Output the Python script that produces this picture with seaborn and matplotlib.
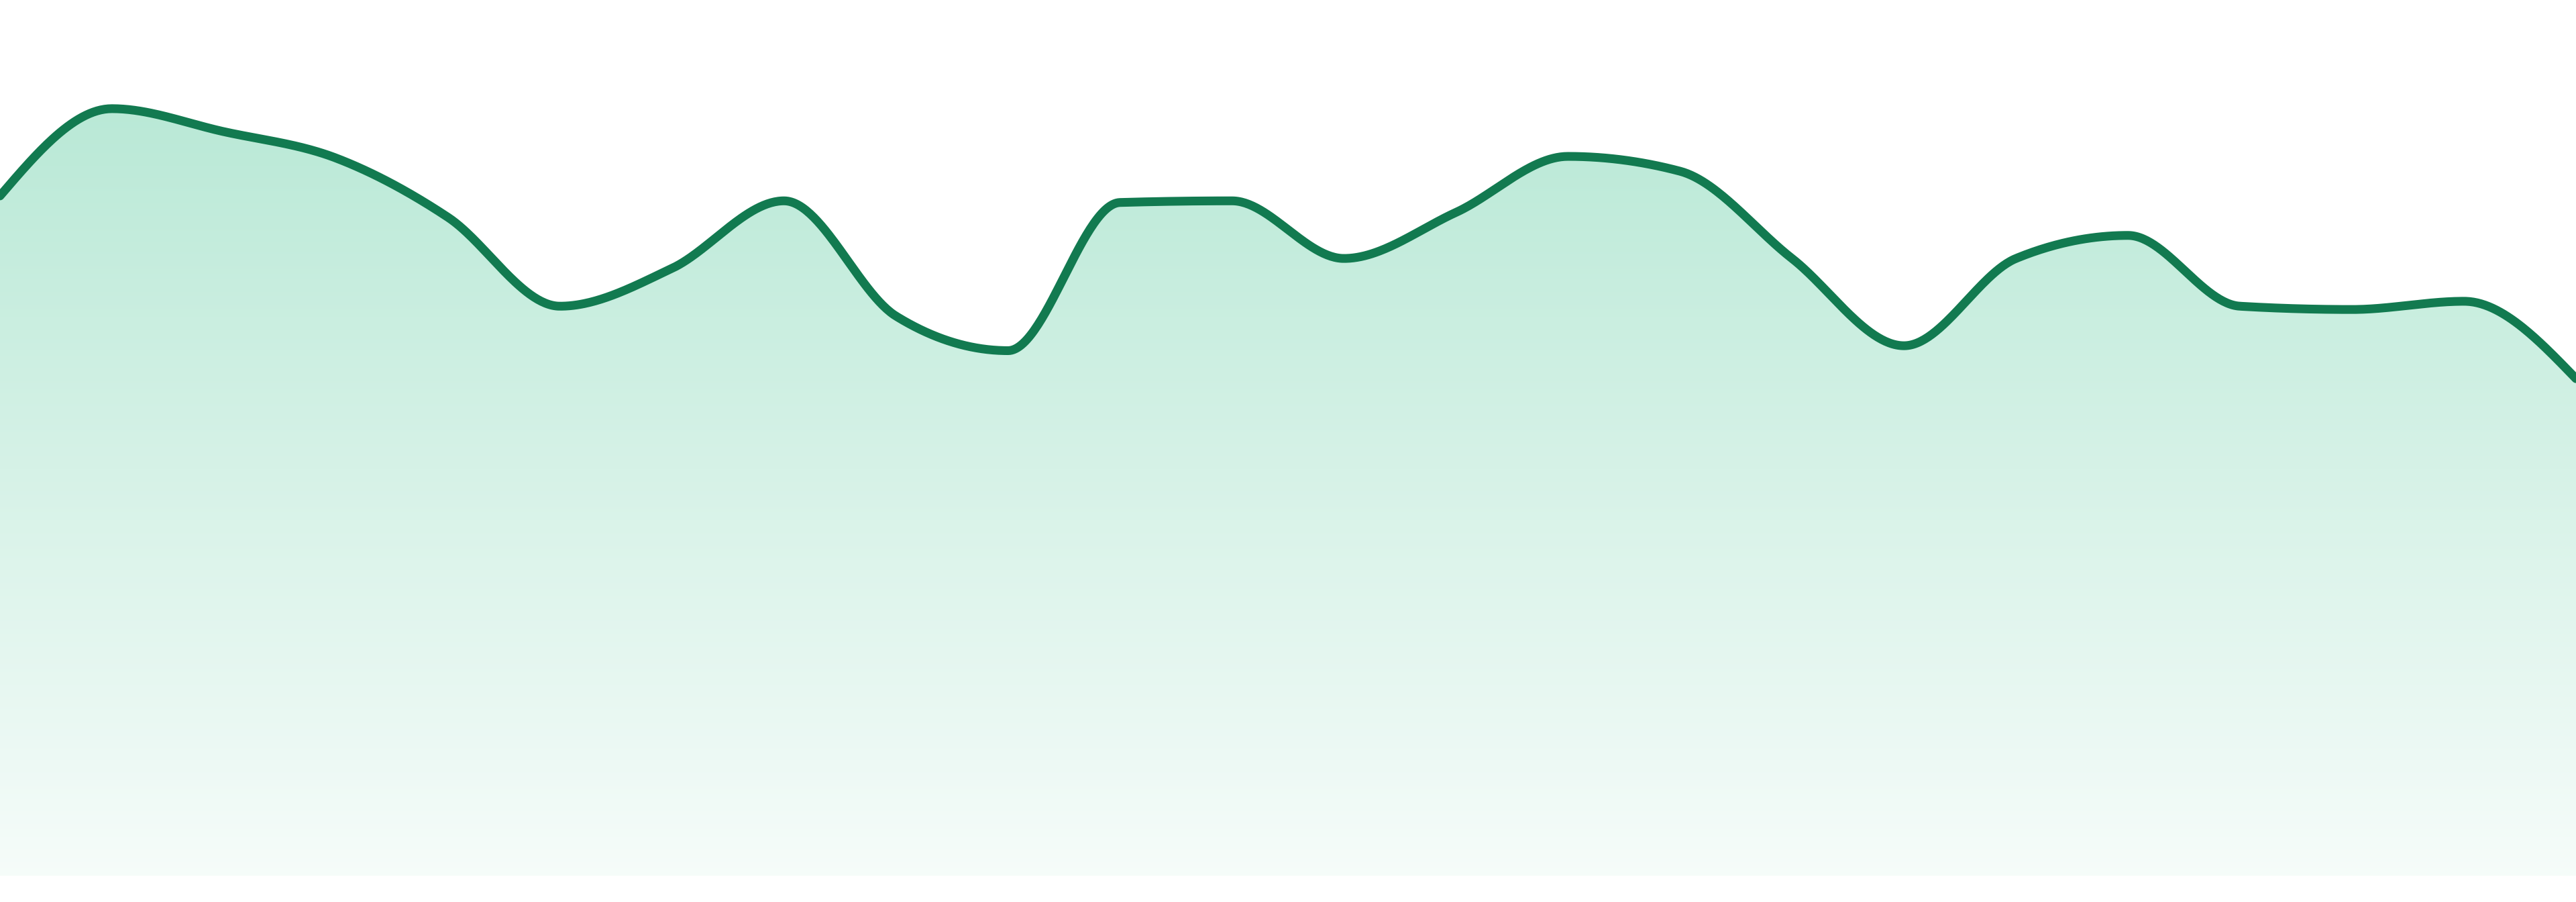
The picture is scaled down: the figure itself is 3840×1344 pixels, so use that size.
import numpy as np
import pandas as pd
import matplotlib
matplotlib.use("Agg")
import matplotlib.pyplot as plt
from matplotlib.colors import to_rgb
import seaborn as sns

# Data (height above baseline, arbitrary units)
steps = list(range(24))
values = [413, 466, 452, 436, 400, 346, 369, 410, 340, 319, 409, 410,
          375, 403, 437, 428, 375, 322, 375, 389, 346, 344, 349, 302]

line_color = "#127a50"
fill_color = "#1fb87c"


def monotone_curve(x, y, per_seg=60):
    # d3 curveMonotoneX style tangents
    x = np.asarray(x, float)
    y = np.asarray(y, float)
    n = len(x)
    h = np.diff(x)
    s = np.diff(y) / h
    t = np.zeros(n)
    for i in range(1, n - 1):
        h0, h1 = h[i - 1], h[i]
        s0, s1 = s[i - 1], s[i]
        p = (s0 * h1 + s1 * h0) / (h0 + h1)
        t[i] = (np.sign(s0) + np.sign(s1)) * min(abs(s0), abs(s1), 0.5 * abs(p))
    t[0] = (3 * s[0] - t[1]) / 2
    t[-1] = (3 * s[-1] - t[-2]) / 2
    xs, ys = [], []
    for i in range(n - 1):
        u = np.linspace(0, 1, per_seg, endpoint=(i == n - 2))
        dx = h[i]
        h00 = 2 * u**3 - 3 * u**2 + 1
        h10 = u**3 - 2 * u**2 + u
        h01 = -2 * u**3 + 3 * u**2
        h11 = u**3 - u**2
        xs.append(x[i] + u * dx)
        ys.append(h00 * y[i] + h10 * dx * t[i] + h01 * y[i + 1] + h11 * dx * t[i + 1])
    return np.concatenate(xs), np.concatenate(ys)


cx, cy = monotone_curve(steps, values)
curve = pd.DataFrame({"step": cx, "value": cy})

sns.set_theme(style="white")
fig = plt.figure(figsize=(38.4, 13.44), dpi=100)
ax = fig.add_axes([0, 39 / 1344, 1, 1305 / 1344])
ax.set_xlim(0, len(steps) - 1)
ax.set_ylim(0, 532)

# gradient fill under the curve
top = max(values)
rgb = np.array(to_rgb(fill_color))
grad_y = np.linspace(0, 532, 600)
alpha = np.clip(0.04 + (0.31 - 0.04) * grad_y / top, 0, None)
img = np.ones((len(grad_y), 1, 3)) * (1 - alpha[:, None, None]) + rgb * alpha[:, None, None]
im = ax.imshow(img, extent=[0, len(steps) - 1, 0, 532], origin="lower",
               aspect="auto", interpolation="bilinear", zorder=1)
poly = ax.fill_between(cx, cy, 0, color="none", lw=0)
clip = poly.get_paths()[0]
im.set_clip_path(clip, transform=ax.transData)

sns.lineplot(data=curve, x="step", y="value", ax=ax, color=line_color,
             linewidth=9.4, sort=False, zorder=3)
ax.lines[-1].set_solid_capstyle("round")
ax.lines[-1].set_solid_joinstyle("round")

ax.set_axis_off()
fig.savefig("out.png", dpi=100, facecolor="white")
